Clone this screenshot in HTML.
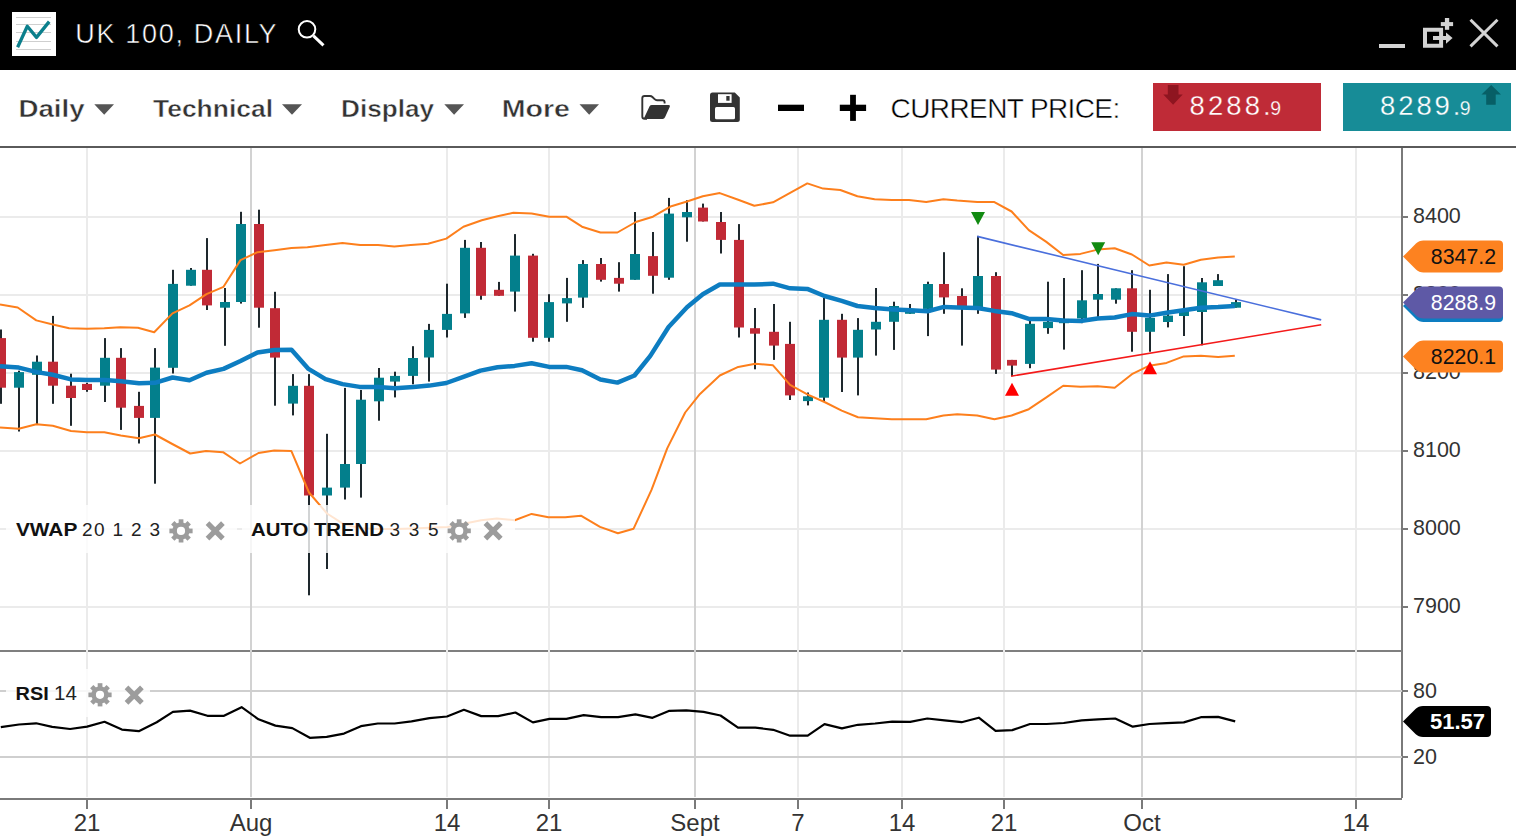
<!DOCTYPE html><html><head><meta charset="utf-8"><title>UK 100, DAILY</title><style>
html,body{margin:0;padding:0;background:#fff;width:1516px;height:838px;overflow:hidden;}
svg{position:absolute;left:0;top:0;display:block;}
text{font-family:"Liberation Sans", sans-serif;}
</style></head><body>
<svg width="1516" height="838" viewBox="0 0 1516 838">
<g id="grid">
<rect x="0" y="216" width="1402" height="2" fill="#ebebeb"/>
<rect x="0" y="294" width="1402" height="2" fill="#ebebeb"/>
<rect x="0" y="372" width="1402" height="2" fill="#ebebeb"/>
<rect x="0" y="450" width="1402" height="2" fill="#ebebeb"/>
<rect x="0" y="528" width="1402" height="2" fill="#ebebeb"/>
<rect x="0" y="606" width="1402" height="2" fill="#ebebeb"/>
<rect x="86" y="148" width="2" height="502" fill="#ebebeb"/>
<rect x="250" y="148" width="2" height="502" fill="#d2d2d2"/>
<rect x="446" y="148" width="2" height="502" fill="#ebebeb"/>
<rect x="548" y="148" width="2" height="502" fill="#ebebeb"/>
<rect x="694" y="148" width="2" height="502" fill="#d2d2d2"/>
<rect x="797" y="148" width="2" height="502" fill="#ebebeb"/>
<rect x="901" y="148" width="2" height="502" fill="#ebebeb"/>
<rect x="1003" y="148" width="2" height="502" fill="#ebebeb"/>
<rect x="1141" y="148" width="2" height="502" fill="#d2d2d2"/>
<rect x="1355" y="148" width="2" height="502" fill="#ebebeb"/>
</g>
<g id="candles">
<rect x="0" y="329.5" width="2" height="74.3" fill="#1e282d"/>
<rect x="-4" y="338.1" width="10" height="49.6" fill="#c12a36"/>
<rect x="18" y="370.7" width="2" height="60.8" fill="#1e282d"/>
<rect x="14" y="372.1" width="10" height="15.6" fill="#037f8c"/>
<rect x="36" y="355.5" width="2" height="68.7" fill="#1e282d"/>
<rect x="32" y="361.7" width="10" height="13.1" fill="#037f8c"/>
<rect x="52" y="315.9" width="2" height="87.9" fill="#1e282d"/>
<rect x="48" y="361.7" width="10" height="24" fill="#c12a36"/>
<rect x="70" y="373.7" width="2" height="52.1" fill="#1e282d"/>
<rect x="66" y="385.7" width="10" height="12.3" fill="#c12a36"/>
<rect x="86" y="382.8" width="2" height="9" fill="#1e282d"/>
<rect x="82" y="383.9" width="10" height="6.1" fill="#c12a36"/>
<rect x="104" y="338.1" width="2" height="63.9" fill="#1e282d"/>
<rect x="100" y="357.8" width="10" height="27.9" fill="#037f8c"/>
<rect x="120" y="348.1" width="2" height="81.8" fill="#1e282d"/>
<rect x="116" y="357.8" width="10" height="49.9" fill="#c12a36"/>
<rect x="138" y="391.8" width="2" height="51.7" fill="#1e282d"/>
<rect x="134" y="405.9" width="10" height="12" fill="#c12a36"/>
<rect x="154" y="348.1" width="2" height="135.6" fill="#1e282d"/>
<rect x="150" y="367.6" width="10" height="50.3" fill="#037f8c"/>
<rect x="172" y="269.8" width="2" height="103.7" fill="#1e282d"/>
<rect x="168" y="283.9" width="10" height="83.9" fill="#037f8c"/>
<rect x="190" y="268" width="2" height="17.7" fill="#1e282d"/>
<rect x="186" y="269.8" width="10" height="15.9" fill="#037f8c"/>
<rect x="206" y="238.1" width="2" height="71.9" fill="#1e282d"/>
<rect x="202" y="269.8" width="10" height="35.6" fill="#c12a36"/>
<rect x="224" y="288" width="2" height="57.8" fill="#1e282d"/>
<rect x="220" y="302" width="10" height="5.7" fill="#037f8c"/>
<rect x="240" y="211.8" width="2" height="91.8" fill="#1e282d"/>
<rect x="236" y="224" width="10" height="78" fill="#037f8c"/>
<rect x="258" y="209.7" width="2" height="118" fill="#1e282d"/>
<rect x="254" y="224" width="10" height="83.7" fill="#c12a36"/>
<rect x="274" y="291.8" width="2" height="113.9" fill="#1e282d"/>
<rect x="270" y="308.2" width="10" height="49.4" fill="#c12a36"/>
<rect x="292" y="374.1" width="2" height="41.3" fill="#1e282d"/>
<rect x="288" y="385.8" width="10" height="17.8" fill="#037f8c"/>
<rect x="308" y="374.1" width="2" height="221.2" fill="#1e282d"/>
<rect x="304" y="385.8" width="10" height="109.7" fill="#c12a36"/>
<rect x="326" y="433.8" width="2" height="135.2" fill="#1e282d"/>
<rect x="322" y="487.6" width="10" height="7.9" fill="#037f8c"/>
<rect x="344" y="387.9" width="2" height="111.6" fill="#1e282d"/>
<rect x="340" y="464" width="10" height="23.6" fill="#037f8c"/>
<rect x="360" y="390" width="2" height="107.6" fill="#1e282d"/>
<rect x="356" y="399.7" width="10" height="64.3" fill="#037f8c"/>
<rect x="378" y="368" width="2" height="52.7" fill="#1e282d"/>
<rect x="374" y="377.7" width="10" height="23.6" fill="#037f8c"/>
<rect x="394" y="371.7" width="2" height="25.7" fill="#1e282d"/>
<rect x="390" y="375.9" width="10" height="5.7" fill="#037f8c"/>
<rect x="412" y="346.2" width="2" height="38.1" fill="#1e282d"/>
<rect x="408" y="358" width="10" height="17.9" fill="#037f8c"/>
<rect x="428" y="323.9" width="2" height="57.7" fill="#1e282d"/>
<rect x="424" y="329.9" width="10" height="27.6" fill="#037f8c"/>
<rect x="446" y="283.7" width="2" height="53.8" fill="#1e282d"/>
<rect x="442" y="313.9" width="10" height="16" fill="#037f8c"/>
<rect x="464" y="239.9" width="2" height="78" fill="#1e282d"/>
<rect x="460" y="247.8" width="10" height="65.6" fill="#037f8c"/>
<rect x="480" y="242" width="2" height="57.7" fill="#1e282d"/>
<rect x="476" y="247.8" width="10" height="48" fill="#c12a36"/>
<rect x="498" y="281.9" width="2" height="13.9" fill="#1e282d"/>
<rect x="494" y="289.8" width="10" height="6" fill="#c12a36"/>
<rect x="514" y="234.1" width="2" height="77.5" fill="#1e282d"/>
<rect x="510" y="255.6" width="10" height="36" fill="#037f8c"/>
<rect x="532" y="253.8" width="2" height="87.9" fill="#1e282d"/>
<rect x="528" y="255.6" width="10" height="82.2" fill="#c12a36"/>
<rect x="548" y="294.2" width="2" height="47.5" fill="#1e282d"/>
<rect x="544" y="302.1" width="10" height="35.7" fill="#037f8c"/>
<rect x="566" y="277.9" width="2" height="43.9" fill="#1e282d"/>
<rect x="562" y="298.1" width="10" height="5.3" fill="#037f8c"/>
<rect x="582" y="260.1" width="2" height="47.8" fill="#1e282d"/>
<rect x="578" y="264" width="10" height="33.6" fill="#037f8c"/>
<rect x="600" y="258" width="2" height="23.6" fill="#1e282d"/>
<rect x="596" y="264" width="10" height="15.8" fill="#c12a36"/>
<rect x="618" y="262.2" width="2" height="29.4" fill="#1e282d"/>
<rect x="614" y="277.9" width="10" height="5.8" fill="#c12a36"/>
<rect x="634" y="212" width="2" height="67.8" fill="#1e282d"/>
<rect x="630" y="254" width="10" height="25.8" fill="#037f8c"/>
<rect x="652" y="232" width="2" height="61.7" fill="#1e282d"/>
<rect x="648" y="256.1" width="10" height="19.7" fill="#c12a36"/>
<rect x="668" y="197.9" width="2" height="81.9" fill="#1e282d"/>
<rect x="664" y="213.6" width="10" height="64.1" fill="#037f8c"/>
<rect x="686" y="200.2" width="2" height="41.5" fill="#1e282d"/>
<rect x="682" y="212" width="10" height="5.3" fill="#037f8c"/>
<rect x="702" y="203.6" width="2" height="17.9" fill="#1e282d"/>
<rect x="698" y="207.6" width="10" height="13.9" fill="#c12a36"/>
<rect x="720" y="212" width="2" height="41.5" fill="#1e282d"/>
<rect x="716" y="222" width="10" height="17.9" fill="#c12a36"/>
<rect x="738" y="224.1" width="2" height="113.4" fill="#1e282d"/>
<rect x="734" y="239.9" width="10" height="87.6" fill="#c12a36"/>
<rect x="754" y="308" width="2" height="61.3" fill="#1e282d"/>
<rect x="750" y="328.2" width="10" height="5.5" fill="#c12a36"/>
<rect x="773" y="304" width="2" height="55.9" fill="#1e282d"/>
<rect x="769" y="331.8" width="10" height="13.8" fill="#c12a36"/>
<rect x="789" y="321.8" width="2" height="78.2" fill="#1e282d"/>
<rect x="785" y="343.9" width="10" height="51.5" fill="#c12a36"/>
<rect x="807" y="392.5" width="2" height="12.9" fill="#1e282d"/>
<rect x="803" y="396.3" width="10" height="4.8" fill="#037f8c"/>
<rect x="823" y="298" width="2" height="103.1" fill="#1e282d"/>
<rect x="819" y="319.8" width="10" height="77.9" fill="#037f8c"/>
<rect x="841" y="313.8" width="2" height="78.2" fill="#1e282d"/>
<rect x="837" y="319.8" width="10" height="37.8" fill="#c12a36"/>
<rect x="857" y="318.1" width="2" height="77.3" fill="#1e282d"/>
<rect x="853" y="329.8" width="10" height="27.8" fill="#037f8c"/>
<rect x="875" y="288" width="2" height="67.6" fill="#1e282d"/>
<rect x="871" y="321.8" width="10" height="7.7" fill="#037f8c"/>
<rect x="893" y="301.7" width="2" height="48.2" fill="#1e282d"/>
<rect x="889" y="306" width="10" height="15.8" fill="#037f8c"/>
<rect x="909" y="304" width="2" height="9.8" fill="#1e282d"/>
<rect x="905" y="308.9" width="10" height="4.9" fill="#037f8c"/>
<rect x="927" y="281.7" width="2" height="54.4" fill="#1e282d"/>
<rect x="923" y="284" width="10" height="24.9" fill="#037f8c"/>
<rect x="943" y="252.2" width="2" height="61.6" fill="#1e282d"/>
<rect x="939" y="284" width="10" height="13.4" fill="#c12a36"/>
<rect x="961" y="288.3" width="2" height="57.3" fill="#1e282d"/>
<rect x="957" y="296" width="10" height="10" fill="#c12a36"/>
<rect x="977" y="235.9" width="2" height="77.9" fill="#1e282d"/>
<rect x="973" y="276" width="10" height="31.5" fill="#037f8c"/>
<rect x="995" y="272.2" width="2" height="101.7" fill="#1e282d"/>
<rect x="991" y="276" width="10" height="93.6" fill="#c12a36"/>
<rect x="1011" y="359.9" width="2" height="16.3" fill="#1e282d"/>
<rect x="1007" y="359.9" width="10" height="5.7" fill="#c12a36"/>
<rect x="1029" y="320.9" width="2" height="47.3" fill="#1e282d"/>
<rect x="1025" y="323.8" width="10" height="40.1" fill="#037f8c"/>
<rect x="1047" y="281.7" width="2" height="52.1" fill="#1e282d"/>
<rect x="1043" y="321.8" width="10" height="6.3" fill="#037f8c"/>
<rect x="1063" y="278" width="2" height="71.6" fill="#1e282d"/>
<rect x="1059" y="318.9" width="10" height="4.3" fill="#037f8c"/>
<rect x="1081" y="270.2" width="2" height="53" fill="#1e282d"/>
<rect x="1077" y="300.3" width="10" height="18.1" fill="#037f8c"/>
<rect x="1097" y="263.9" width="2" height="53" fill="#1e282d"/>
<rect x="1093" y="294" width="10" height="5.7" fill="#037f8c"/>
<rect x="1115" y="288.3" width="2" height="15.4" fill="#1e282d"/>
<rect x="1111" y="288.3" width="10" height="11.4" fill="#037f8c"/>
<rect x="1131" y="270.2" width="2" height="81.5" fill="#1e282d"/>
<rect x="1127" y="288.3" width="10" height="43.5" fill="#c12a36"/>
<rect x="1149" y="289.8" width="2" height="61.9" fill="#1e282d"/>
<rect x="1145" y="317.8" width="10" height="14" fill="#037f8c"/>
<rect x="1167" y="274.1" width="2" height="53.3" fill="#1e282d"/>
<rect x="1163" y="315.6" width="10" height="6.4" fill="#037f8c"/>
<rect x="1183" y="266.2" width="2" height="69.8" fill="#1e282d"/>
<rect x="1179" y="310.2" width="10" height="5.8" fill="#037f8c"/>
<rect x="1201" y="278" width="2" height="67.3" fill="#1e282d"/>
<rect x="1197" y="282.3" width="10" height="29.7" fill="#037f8c"/>
<rect x="1217" y="274.1" width="2" height="11.9" fill="#1e282d"/>
<rect x="1213" y="280.2" width="10" height="5.8" fill="#037f8c"/>
<rect x="1235" y="299.5" width="2" height="8.2" fill="#1e282d"/>
<rect x="1231" y="302.1" width="10" height="5.6" fill="#037f8c"/>
</g>
<polyline points="0,304.5 17.7,307.5 36.3,320.4 52.8,324.5 69.2,328.3 86.8,328.7 104.3,328.3 120.2,327.2 137.9,327.7 154.2,332.2 172.5,313.4 189.5,305.4 206.5,294.1 223.5,286.8 240.5,260.1 257.5,252.2 274.5,250.3 291.5,248.1 307.4,247.2 325.5,244.9 342.5,243.1 360.2,245.1 378,245.1 394.3,246.4 410.9,245.1 428,243.8 446.3,238.6 463.4,226.7 481.8,220.2 497.5,216.2 513.3,212.8 531.6,213.6 549.2,216.7 566.3,216.7 582,226.7 600.4,232.5 617.4,232.5 635.8,222 652.9,216.7 671.3,206.2 687,201.5 702.8,196.3 719.8,193.1 738.2,199.7 754.3,205.8 773,202.3 790.1,192.9 807.3,183.4 823.1,188.6 840.3,190 857.4,196.3 874.6,199.2 891.8,200 909,200 926.2,202.1 943.4,199.2 957.2,200.6 977.2,202.1 994.4,202.1 1011.6,211.5 1028.8,230.1 1046,241.6 1063.2,255 1080.4,253.9 1097.6,249.6 1114.7,248.2 1131.9,254.5 1149.3,265.5 1166.5,262.5 1183.7,264.7 1200.9,259.7 1218.1,257.6 1234.8,256.5" fill="none" stroke="#fd7f1c" stroke-width="2" stroke-linejoin="round"/>
<polyline points="0,427.4 18.8,428.8 36.3,424.2 52.8,425.8 71,431 86.8,432.2 104.3,432.2 120.8,435.4 139,438.3 154.9,434.5 172.3,444 190.2,453.5 206,450.9 223,452.2 240,463.5 258.5,453 274.2,450.4 291.3,450.9 309,492.5 327,513.5 344,524.4 361,528.3 379,529.1 395,529 413,528.5 429,527.8 447.5,526.9 465,523.5 481.1,520.2 496.8,518.6 514.7,520.2 531.6,513.9 548.4,517.3 565.2,517.3 580.9,515.7 600,526.9 617.9,533.2 633.6,528.7 651.5,489.9 667.2,448.4 685.2,412.5 700,393.9 719.8,375.5 738.2,366.9 755.3,363.8 773,365.3 790.1,384.8 807.3,394.3 824.5,402 841.7,410.6 858,417.2 874.6,418.3 891.8,419.2 926.2,419.2 943.4,415.5 957.2,414.3 977.2,415.5 994.4,419.2 1011.6,415.5 1028.8,409.2 1046,397.7 1063.2,385.7 1080.4,386.8 1097.6,386.2 1114.7,387.7 1131.9,374.2 1149.3,365.7 1166.5,362.9 1183.7,356.4 1200.9,355.8 1218.1,357.1 1234.8,355.8" fill="none" stroke="#fd7f1c" stroke-width="2" stroke-linejoin="round"/>
<polyline points="0,366.2 18.8,367.6 37,372.1 52.8,374.8 71,379.4 86.8,380 105,380 120.8,381.2 139,383.2 154.9,382.8 172.5,377.5 189.5,380.3 206.5,372.8 223.5,368.9 240.5,361 257.5,352.4 274.5,350.1 291.5,349.7 308.5,368.9 325.5,379.1 342.5,384.1 359.7,386.9 378,386.9 395.1,388.2 413.5,386.9 429.3,385.6 446.3,383 463.4,376.9 480.5,370.6 497.5,367.2 514.6,365.9 531.6,363.3 549.2,366.9 566.3,366.9 582,370.3 600.4,379.5 617.4,382.6 634.5,375.5 650.3,355.9 668.6,327 687,307.3 702.8,294.2 719.8,284.5 738.7,284.5 754.3,284.6 773,283.7 790.1,288.3 807.3,288.9 824.5,296 841.7,300.9 857.4,306 874.6,308 893.3,309.5 910.4,310.3 927.6,311.2 944,306.9 957.2,307.5 977.2,308 994.4,310.9 1011.6,313.2 1028.8,318.9 1046,318.9 1063.2,320.4 1080.4,320.9 1097.6,318.4 1114.7,317.5 1131.9,314.1 1149.3,315.6 1166.5,312.8 1183.7,310.2 1200.9,307.7 1218.1,307 1234.8,305.9" fill="none" stroke="#0d7dc1" stroke-width="4.5" stroke-linejoin="round"/>
<line x1="977.2" y1="236.4" x2="1321.2" y2="319.9" stroke="#4a6fdc" stroke-width="1.6"/>
<line x1="1011" y1="376.2" x2="1321.2" y2="324.8" stroke="#f41a1a" stroke-width="1.6"/>
<polygon points="971,212.1 985,212.1 978,225.1" fill="#118a11"/>
<polygon points="1091.2,242.2 1105.2,242.2 1098.2,255.2" fill="#118a11"/>
<polygon points="1005,395.7 1019,395.7 1012,382.7" fill="#ff0000"/>
<polygon points="1143,374.2 1157,374.2 1150,361.2" fill="#ff0000"/>
<rect x="0" y="146" width="1516" height="2" fill="#5a5a5a"/>
<rect x="1401" y="148" width="2" height="650" fill="#7a7a7a"/>
<rect x="0" y="650" width="1402" height="2" fill="#7f7f7f"/>
<rect x="0" y="798" width="1402" height="2" fill="#7a7a7a"/>
<rect x="1403" y="216" width="5" height="2" fill="#7a7a7a"/>
<text x="1413" y="223.2" font-size="21.5" fill="#333">8400</text>
<rect x="1403" y="294" width="5" height="2" fill="#7a7a7a"/>
<text x="1413" y="301.2" font-size="21.5" fill="#333">8300</text>
<rect x="1403" y="372" width="5" height="2" fill="#7a7a7a"/>
<text x="1413" y="379.2" font-size="21.5" fill="#333">8200</text>
<rect x="1403" y="450" width="5" height="2" fill="#7a7a7a"/>
<text x="1413" y="457.2" font-size="21.5" fill="#333">8100</text>
<rect x="1403" y="528" width="5" height="2" fill="#7a7a7a"/>
<text x="1413" y="535.2" font-size="21.5" fill="#333">8000</text>
<rect x="1403" y="606" width="5" height="2" fill="#7a7a7a"/>
<text x="1413" y="613.2" font-size="21.5" fill="#333">7900</text>
<rect x="86" y="650" width="2" height="147" fill="#ebebeb"/>
<rect x="250" y="650" width="2" height="147" fill="#d2d2d2"/>
<rect x="446" y="650" width="2" height="147" fill="#ebebeb"/>
<rect x="548" y="650" width="2" height="147" fill="#ebebeb"/>
<rect x="694" y="650" width="2" height="147" fill="#d2d2d2"/>
<rect x="797" y="650" width="2" height="147" fill="#ebebeb"/>
<rect x="901" y="650" width="2" height="147" fill="#ebebeb"/>
<rect x="1003" y="650" width="2" height="147" fill="#ebebeb"/>
<rect x="1141" y="650" width="2" height="147" fill="#d2d2d2"/>
<rect x="1355" y="650" width="2" height="147" fill="#ebebeb"/>
<rect x="0" y="690" width="1402" height="2" fill="#cfcfcf"/>
<rect x="1403" y="690" width="5" height="2" fill="#7a7a7a"/>
<text x="1413" y="697.7" font-size="21.5" fill="#333">80</text>
<rect x="0" y="756" width="1402" height="2" fill="#cfcfcf"/>
<rect x="1403" y="756" width="5" height="2" fill="#7a7a7a"/>
<text x="1413" y="763.7" font-size="21.5" fill="#333">20</text>
<polyline points="0.8,727.2 19,724.5 36.1,723.3 52.2,726.9 70.1,729 87.1,726.6 104.5,721.8 121.9,729.6 138.8,731.2 156.7,722.2 172.9,711.9 190,710.6 207.4,715.8 224,715.8 241.6,707.2 258.5,719.3 275.4,725.6 292.3,728.1 309.8,737.8 326.7,736.8 344,733.6 360.9,726.2 377.8,723.5 394.6,723.5 411.5,721.4 429.5,718.2 447,716.5 463.9,709.8 481.2,716.1 498.1,716.1 515.4,712.5 532.9,722.4 549.5,718.9 566.4,718.9 583.7,715.1 601.2,717.2 618.1,717.2 635.4,714.4 652.5,717.8 669.4,710.8 686.3,710.4 703.6,711.9 720.5,715.5 738,727.7 755.3,727.7 773.2,729.8 790.1,735.7 807.7,735.7 824.5,724.1 841.9,728.4 857.9,724.8 875.1,723.5 892.2,721.6 910.2,721.9 927.3,718.5 944.5,720.3 961.6,722.2 978.8,717.7 995.6,730.9 1012.3,730.1 1030,724 1046.6,724 1063.7,723 1081.7,720.3 1098,719.3 1115.2,718.5 1132.8,726.7 1149.5,724 1166.6,723.2 1183.8,722.4 1200.9,717.2 1218.1,716.9 1235.2,721.4" fill="none" stroke="#000" stroke-width="2.2" stroke-linejoin="round"/>
<rect x="86" y="800" width="2" height="9" fill="#7a7a7a"/>
<text x="87" y="830.8" font-size="24" fill="#333" text-anchor="middle">21</text>
<rect x="250" y="800" width="2" height="9" fill="#7a7a7a"/>
<text x="251" y="830.8" font-size="24" fill="#333" text-anchor="middle">Aug</text>
<rect x="446" y="800" width="2" height="9" fill="#7a7a7a"/>
<text x="447" y="830.8" font-size="24" fill="#333" text-anchor="middle">14</text>
<rect x="548" y="800" width="2" height="9" fill="#7a7a7a"/>
<text x="549" y="830.8" font-size="24" fill="#333" text-anchor="middle">21</text>
<rect x="694" y="800" width="2" height="9" fill="#7a7a7a"/>
<text x="695" y="830.8" font-size="24" fill="#333" text-anchor="middle">Sept</text>
<rect x="797" y="800" width="2" height="9" fill="#7a7a7a"/>
<text x="798" y="830.8" font-size="24" fill="#333" text-anchor="middle">7</text>
<rect x="901" y="800" width="2" height="9" fill="#7a7a7a"/>
<text x="902" y="830.8" font-size="24" fill="#333" text-anchor="middle">14</text>
<rect x="1003" y="800" width="2" height="9" fill="#7a7a7a"/>
<text x="1004" y="830.8" font-size="24" fill="#333" text-anchor="middle">21</text>
<rect x="1141" y="800" width="2" height="9" fill="#7a7a7a"/>
<text x="1142" y="830.8" font-size="24" fill="#333" text-anchor="middle">Oct</text>
<rect x="1355" y="800" width="2" height="9" fill="#7a7a7a"/>
<text x="1356" y="830.8" font-size="24" fill="#333" text-anchor="middle">14</text>
<path d="M1403,256.6 L1416,243.6 Q1419,240.6 1423.5,240.6 L1499,240.6 Q1503,240.6 1503,244.6 L1503,268.6 Q1503,272.6 1499,272.6 L1423.5,272.6 Q1419,272.6 1416,269.6 Z" fill="#fd8220"/><text x="1496" y="264.1" font-size="21.3" fill="#111" text-anchor="end">8347.2</text>
<path d="M1403,305.9 L1416,292.9 Q1419,289.9 1423.5,289.9 L1499,289.9 Q1503,289.9 1503,293.9 L1503,317.9 Q1503,321.9 1499,321.9 L1423.5,321.9 Q1419,321.9 1416,318.9 Z" fill="#0d7dc1"/>
<path d="M1403,302.4 L1416,289.4 Q1419,286.4 1423.5,286.4 L1499,286.4 Q1503,286.4 1503,290.4 L1503,314.4 Q1503,318.4 1499,318.4 L1423.5,318.4 Q1419,318.4 1416,315.4 Z" fill="#5e59a6"/><text x="1496" y="309.9" font-size="21.3" fill="#fff" text-anchor="end">8288.9</text>
<path d="M1403,356.5 L1416,343.5 Q1419,340.5 1423.5,340.5 L1499,340.5 Q1503,340.5 1503,344.5 L1503,368.5 Q1503,372.5 1499,372.5 L1423.5,372.5 Q1419,372.5 1416,369.5 Z" fill="#fd8220"/><text x="1496" y="364" font-size="21.3" fill="#111" text-anchor="end">8220.1</text>
<path d="M1403,721.5 L1415.5,709 Q1418.5,706 1423,706 L1487,706 Q1491,706 1491,710 L1491,733 Q1491,737 1487,737 L1423,737 Q1418.5,737 1415.5,734 Z" fill="#000"/>
<text x="1485" y="728.8" font-size="22" fill="#fff" font-weight="bold" text-anchor="end">51.57</text>
<rect x="6" y="505" width="231" height="48" fill="#fff" fill-opacity="0.8"/>
<rect x="242" y="505" width="273" height="48" fill="#fff" fill-opacity="0.8"/>
<rect x="6" y="669" width="144" height="48" fill="#fff" fill-opacity="0.8"/>
<text x="15.9" y="536" font-size="19" textLength="61.4" lengthAdjust="spacingAndGlyphs" font-weight="bold" fill="#111">VWAP</text>
<text x="82" y="536" font-size="19" textLength="78" lengthAdjust="spacing" fill="#222">20 1 2 3</text>
<g fill="#9c9c9c"><circle cx="181" cy="530.9" r="8.6"/><rect x="178.7" y="519.3" width="4.7" height="23.2" transform="rotate(0 181 530.9)"/><rect x="178.7" y="519.3" width="4.7" height="23.2" transform="rotate(45 181 530.9)"/><rect x="178.7" y="519.3" width="4.7" height="23.2" transform="rotate(90 181 530.9)"/><rect x="178.7" y="519.3" width="4.7" height="23.2" transform="rotate(135 181 530.9)"/></g><circle cx="181" cy="530.9" r="4.1" fill="#fff"/>
<path d="M207.5,523.2 L222.9,538.6 M222.9,523.2 L207.5,538.6" stroke="#9c9c9c" stroke-width="5.2"/>
<text x="251" y="536" font-size="19" textLength="133" lengthAdjust="spacingAndGlyphs" font-weight="bold" fill="#111">AUTO TREND</text>
<text x="389.6" y="536" font-size="19" textLength="49" lengthAdjust="spacing" fill="#222">3 3 5</text>
<g fill="#9c9c9c"><circle cx="459.2" cy="530.9" r="8.6"/><rect x="456.8" y="519.3" width="4.7" height="23.2" transform="rotate(0 459.2 530.9)"/><rect x="456.8" y="519.3" width="4.7" height="23.2" transform="rotate(45 459.2 530.9)"/><rect x="456.8" y="519.3" width="4.7" height="23.2" transform="rotate(90 459.2 530.9)"/><rect x="456.8" y="519.3" width="4.7" height="23.2" transform="rotate(135 459.2 530.9)"/></g><circle cx="459.2" cy="530.9" r="4.1" fill="#fff"/>
<path d="M485.4,523.2 L500.8,538.6 M500.8,523.2 L485.4,538.6" stroke="#9c9c9c" stroke-width="5.2"/>
<text x="15.6" y="700" font-size="19" textLength="33.2" lengthAdjust="spacingAndGlyphs" font-weight="bold" fill="#111">RSI</text>
<text x="54" y="700" font-size="20.5" fill="#222">14</text>
<g fill="#9c9c9c"><circle cx="100" cy="694.8" r="8.6"/><rect x="97.7" y="683.2" width="4.7" height="23.2" transform="rotate(0 100 694.8)"/><rect x="97.7" y="683.2" width="4.7" height="23.2" transform="rotate(45 100 694.8)"/><rect x="97.7" y="683.2" width="4.7" height="23.2" transform="rotate(90 100 694.8)"/><rect x="97.7" y="683.2" width="4.7" height="23.2" transform="rotate(135 100 694.8)"/></g><circle cx="100" cy="694.8" r="4.1" fill="#fff"/>
<path d="M126.5,687.4 L141.9,702.8 M141.9,687.4 L126.5,702.8" stroke="#9c9c9c" stroke-width="5.2"/>
<rect x="0" y="0" width="1516" height="70" fill="#000"/>
<rect x="0" y="70" width="1516" height="76" fill="#fff"/>
<rect x="12" y="12" width="44" height="44" fill="#fff"/>
<rect x="16" y="17" width="35" height="1" fill="#cfcfcf"/>
<rect x="16" y="24" width="35" height="1" fill="#cfcfcf"/>
<rect x="16" y="32" width="35" height="1" fill="#cfcfcf"/>
<rect x="16" y="41" width="35" height="1" fill="#cfcfcf"/>
<rect x="16" y="49" width="35" height="1" fill="#cfcfcf"/>
<polyline points="17.6,47.3 27.3,26.3 36.5,37.4 49.2,21.6" fill="none" stroke="#0b7f8c" stroke-width="3.3" stroke-linejoin="round"/>
<text x="75.2" y="42.9" font-size="27" textLength="201.4" lengthAdjust="spacing" fill="#fff" stroke="#000" stroke-width="0.5">UK 100, DAILY</text>
<circle cx="307" cy="29.3" r="8.3" fill="none" stroke="#fff" stroke-width="2"/>
<line x1="313.5" y1="35.8" x2="323.5" y2="45.4" stroke="#fff" stroke-width="3"/>
<rect x="1379" y="44" width="26" height="4" fill="#d3d3d3"/>
<path d="M1425,29.8 H1441.1 V45.8 H1425 Z" fill="none" stroke="#d3d3d3" stroke-width="4"/>
<rect x="1433" y="36" width="13" height="4" fill="#d3d3d3"/>
<polygon points="1446,32.4 1452.6,38 1446,43.7" fill="#d3d3d3"/>
<rect x="1440.8" y="22.1" width="12.3" height="4" fill="#d3d3d3"/>
<rect x="1444.9" y="18" width="4.3" height="11.8" fill="#d3d3d3"/>
<path d="M1470.5,19.7 L1497.5,46.4 M1497.5,19.7 L1470.5,46.4" stroke="#d3d3d3" stroke-width="3"/>
<text x="18.4" y="116.9" font-size="24" textLength="66.2" lengthAdjust="spacingAndGlyphs" font-weight="bold" fill="#333" stroke="#fff" stroke-width="0.45">Daily</text><polygon points="94.3,104.3 114,104.3 104.2,114.7" fill="#555"/>
<text x="153" y="116.9" font-size="24" textLength="120" lengthAdjust="spacingAndGlyphs" font-weight="bold" fill="#333" stroke="#fff" stroke-width="0.45">Technical</text><polygon points="282,104.3 302,104.3 292,114.7" fill="#555"/>
<text x="341" y="116.9" font-size="24" textLength="93" lengthAdjust="spacingAndGlyphs" font-weight="bold" fill="#333" stroke="#fff" stroke-width="0.45">Display</text><polygon points="444.3,104.3 464,104.3 454.1,114.7" fill="#555"/>
<text x="501.8" y="116.9" font-size="24" textLength="68.2" lengthAdjust="spacingAndGlyphs" font-weight="bold" fill="#333" stroke="#fff" stroke-width="0.45">More</text><polygon points="579.5,104.3 599,104.3 589.2,114.7" fill="#555"/>
<path d="M647,118.7 H644.6 Q642.3,118.7 642.3,116.4 V98.3 Q642.3,96 644.6,96 H650 Q651.4,96 652.4,97 L654.6,99.2 Q655.6,100.2 657,100.2 H662.6 Q664.6,100.2 664.6,102.2 V103.4" fill="none" stroke="#333" stroke-width="1.9"/>
<path d="M643.6,118.9 L649.6,106.3 Q650.3,104.9 651.9,104.9 H668.6 Q670.6,104.9 669.8,106.7 L665,117.3 Q664.3,118.9 662.6,118.9 Z" fill="#333"/>
<path d="M712.5,92.6 H734.8 L739.8,97.6 V119.6 Q739.8,122.1 737.3,122.1 H712.5 Q710,122.1 710,119.6 V95.1 Q710,92.6 712.5,92.6 Z" fill="#333"/>
<rect x="718" y="94.2" width="13.6" height="8.7" fill="#fff"/>
<rect x="726.3" y="96" width="3.3" height="4.7" fill="#333"/>
<rect x="715" y="107" width="20" height="12.2" rx="1.5" fill="#fff"/>
<rect x="778" y="104.7" width="26" height="6.3" fill="#000"/>
<rect x="839.8" y="104.7" width="26.3" height="6.3" fill="#000"/>
<rect x="850.1" y="94.8" width="5.8" height="26.1" fill="#000"/>
<text x="890.6" y="118.2" font-size="28" textLength="229.6" lengthAdjust="spacing" fill="#000" stroke="#fff" stroke-width="0.45">CURRENT PRICE:</text>
<rect x="1153" y="83" width="168" height="48" fill="#bf2b37"/>
<path d="M1167.8,85.1 H1178.5 V94.6 H1182.7 L1173.1,104.7 L1163.3,94.6 H1167.8 Z" fill="#8e1520"/>
<text x="1189.6" y="114.8" font-size="27.5" textLength="81.1" lengthAdjust="spacing" fill="#fff" stroke="#bf2b37" stroke-width="0.3">8288.</text>
<text x="1270.2" y="114.8" font-size="19.5" fill="#fff" stroke="#bf2b37" stroke-width="0.25">9</text>
<rect x="1343" y="83" width="168" height="48" fill="#178c97"/>
<path d="M1486.2,104.7 H1495.7 V94.6 H1501 L1491.2,85.1 L1481.5,94.6 H1486.2 Z" fill="#075f66"/>
<text x="1380.1" y="114.8" font-size="27.5" textLength="80.2" lengthAdjust="spacing" fill="#fff" stroke="#178c97" stroke-width="0.3">8289.</text>
<text x="1459.8" y="114.8" font-size="19.5" fill="#fff" stroke="#178c97" stroke-width="0.25">9</text>
</svg></body></html>
